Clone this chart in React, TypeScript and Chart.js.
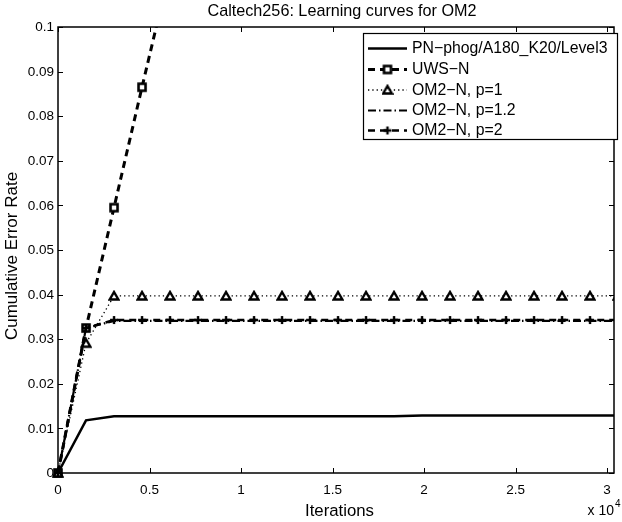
import React, { useEffect, useRef } from 'react';
import { Chart, registerables } from 'chart.js';

Chart.register(...registerables);

// ---------- data ----------
const iterations = [0, 1530, 3060, 4590, 6120, 7650, 9180, 10710, 12240, 13770, 15300, 16830, 18360, 19890, 21420, 22950, 24480, 26010, 27540, 29070, 30600];
const pnPhog = [0, 0.0118, 0.0127, 0.0127, 0.0127, 0.0127, 0.0127, 0.0127, 0.0127, 0.0127, 0.0127, 0.0127, 0.0127, 0.0129, 0.0129, 0.0129, 0.0129, 0.0129, 0.0129, 0.0129, 0.0129];
const uwsN = [0, 0.0325, 0.0595, 0.0865, 0.113];
const om2p1 = [0, 0.0291, 0.0397, 0.0397, 0.0397, 0.0397, 0.0397, 0.0397, 0.0397, 0.0397, 0.0397, 0.0397, 0.0397, 0.0397, 0.0397, 0.0397, 0.0397, 0.0397, 0.0397, 0.0397, 0.0397];
const om2p12 = [0, 0.0325, 0.0341, 0.0341, 0.0341, 0.0341, 0.0341, 0.0341, 0.0341, 0.0341, 0.0341, 0.0341, 0.0341, 0.0341, 0.0341, 0.0341, 0.0341, 0.0341, 0.0341, 0.0341, 0.0341];
const om2p2 = [0, 0.0325, 0.0343, 0.0343, 0.0343, 0.0343, 0.0343, 0.0343, 0.0343, 0.0343, 0.0343, 0.0343, 0.0343, 0.0343, 0.0343, 0.0343, 0.0343, 0.0343, 0.0343, 0.0343, 0.0343];

const seriesLabels = ['PN\u2212phog/A180_K20/Level3', 'UWS\u2212N', 'OM2\u2212N, p=1', 'OM2\u2212N, p=1.2', 'OM2\u2212N, p=2'];
const xTickValues = [0, 5000, 10000, 15000, 20000, 25000, 30000];
const xTickLabels = ['0', '0.5', '1', '1.5', '2', '2.5', '3'];
const yTickValues = [0, 0.01, 0.02, 0.03, 0.04, 0.05, 0.06, 0.07, 0.08, 0.09, 0.1];
const yTickLabels = ['0', '0.01', '0.02', '0.03', '0.04', '0.05', '0.06', '0.07', '0.08', '0.09', '0.1'];
const titleText = 'Caltech256: Learning curves for OM2';
const xLabel = 'Iterations';
const yLabel = 'Cumulative Error Rate';
const xMultiplier = 'x 10';
const xMultiplierExp = '4';

const FONT = '"Liberation Sans", Arial, Helvetica, sans-serif';

function makeCanvas(w: number, h: number) {
  const c = document.createElement('canvas');
  c.width = w;
  c.height = h;
  return c;
}

function squareMarker() {
  const c = makeCanvas(12, 12);
  const g = c.getContext('2d')!;
  g.fillStyle = '#fff';
  g.fillRect(2.5, 2.5, 7, 7);
  g.strokeStyle = '#000';
  g.lineWidth = 2.6;
  g.strokeRect(2.5, 2.5, 7, 7);
  return c;
}

function triangleMarker() {
  const c = makeCanvas(12, 12);
  const g = c.getContext('2d')!;
  g.beginPath();
  g.moveTo(6, 2);
  g.lineTo(10.3, 9.5);
  g.lineTo(1.7, 9.5);
  g.closePath();
  g.fillStyle = '#fff';
  g.fill();
  g.strokeStyle = '#000';
  g.lineWidth = 2.4;
  g.lineJoin = 'miter';
  g.stroke();
  return c;
}

function plusMarker() {
  const c = makeCanvas(10, 10);
  const g = c.getContext('2d')!;
  g.strokeStyle = '#000';
  g.lineWidth = 2.4;
  g.beginPath();
  g.moveTo(1, 5);
  g.lineTo(9, 5);
  g.moveTo(5, 1);
  g.lineTo(5, 9);
  g.stroke();
  return c;
}

const decorPlugin = {
  id: 'matlabDecor',
  afterDatasetsDraw(chart: any) {
    const { ctx, chartArea, scales } = chart;
    const { left, right, top, bottom } = chartArea;
    const x = scales.x;
    const y = scales.y;
    ctx.save();
    ctx.strokeStyle = '#000';
    ctx.lineWidth = 1;
    ctx.beginPath();
    const tl = 5;
    xTickValues.forEach((v) => {
      const px = Math.round(x.getPixelForValue(v)) + 0.5;
      ctx.moveTo(px, bottom);
      ctx.lineTo(px, bottom - tl);
      ctx.moveTo(px, top);
      ctx.lineTo(px, top + tl);
    });
    yTickValues.forEach((v) => {
      const py = Math.round(y.getPixelForValue(v)) + 0.5;
      ctx.moveTo(left, py);
      ctx.lineTo(left + tl, py);
      ctx.moveTo(right, py);
      ctx.lineTo(right - tl, py);
    });
    ctx.stroke();
    ctx.lineWidth = 1.5;
    ctx.strokeRect(left, top, right - left, bottom - top);

    // tick labels
    ctx.fillStyle = '#000';
    ctx.font = `13.5px ${FONT}`;
    ctx.textBaseline = 'middle';
    ctx.textAlign = 'center';
    xTickValues.forEach((v, i) => {
      ctx.fillText(xTickLabels[i], x.getPixelForValue(v), bottom + 17);
    });
    ctx.textAlign = 'right';
    yTickValues.forEach((v, i) => {
      ctx.fillText(yTickLabels[i], left - 4, y.getPixelForValue(v) + 0.5);
    });
    ctx.restore();
  },
  afterDraw(chart: any) {
    const { ctx } = chart;
    ctx.save();
    ctx.fillStyle = '#000';
    ctx.textAlign = 'center';
    ctx.textBaseline = 'middle';
    // title
    ctx.font = `16.2px ${FONT}`;
    ctx.fillText(titleText, 342, 12);
    // x label
    ctx.font = `16.8px ${FONT}`;
    ctx.fillText(xLabel, 339.5, 511);
    // y label
    ctx.save();
    ctx.translate(12, 256);
    ctx.rotate(-Math.PI / 2);
    ctx.font = `17px ${FONT}`;
    ctx.fillText(yLabel, 0, 0);
    ctx.restore();
    // multiplier
    ctx.font = `14px ${FONT}`;
    ctx.textAlign = 'right';
    ctx.fillText(xMultiplier, 614, 511);
    ctx.font = `10px ${FONT}`;
    ctx.textAlign = 'left';
    ctx.fillText(xMultiplierExp, 615, 504);

    // legend
    const bx = 363, by = 33, bw = 254, bh = 106;
    ctx.fillStyle = '#fff';
    ctx.fillRect(bx, by, bw, bh);
    ctx.strokeStyle = '#000';
    ctx.lineWidth = 1.2;
    ctx.strokeRect(bx + 0.5, by + 0.5, bw, bh);
    const rows = [48.5, 69.5, 90, 110.5, 130.5];
    chart.data.datasets.forEach((ds: any, i: number) => {
      const cy = rows[i];
      ctx.save();
      ctx.strokeStyle = '#000';
      ctx.lineWidth = ds.borderWidth;
      ctx.setLineDash(ds.borderDash || []);
      ctx.beginPath();
      ctx.moveTo(368, cy);
      ctx.lineTo(407, cy);
      ctx.stroke();
      ctx.restore();
      if (ds.legendMarker) {
        const m = ds.legendMarker as HTMLCanvasElement;
        ctx.drawImage(m, 387.5 - m.width / 2, cy - m.height / 2);
      }
      ctx.fillStyle = '#000';
      ctx.font = `15.8px ${FONT}`;
      ctx.textAlign = 'left';
      ctx.textBaseline = 'middle';
      ctx.fillText(ds.label, 412, cy + 0.5);
    });
    ctx.restore();
  },
};

export default function App() {
  const ref = useRef<HTMLCanvasElement | null>(null);

  useEffect(() => {
    if (!ref.current) return;
    const sq = squareMarker();
    const tri = triangleMarker();
    const plus = plusMarker();
    const pts = (vals: number[]) => vals.map((v, i) => ({ x: iterations[i], y: v }));
    const clip = { left: 10, top: 0, right: 0, bottom: 10 };

    const chart = new Chart(ref.current, {
      type: 'line',
      data: {
        datasets: [
          {
            label: seriesLabels[0],
            data: pts(pnPhog),
            borderColor: '#000',
            borderWidth: 2.5,
            pointRadius: 0,
            order: 5,
            clip,
          },
          {
            label: seriesLabels[1],
            data: pts(uwsN),
            borderColor: '#000',
            borderWidth: 3,
            borderDash: [7, 5],
            pointStyle: sq,
            pointRadius: 5,
            order: 4,
            clip,
            legendMarker: sq,
          },
          {
            label: seriesLabels[2],
            data: pts(om2p1),
            borderColor: '#000',
            borderWidth: 1.3,
            borderDash: [1.3, 3],
            pointStyle: tri,
            pointRadius: 5,
            order: 3,
            clip,
            legendMarker: tri,
          },
          {
            label: seriesLabels[3],
            data: pts(om2p12),
            borderColor: '#000',
            borderWidth: 2.2,
            borderDash: [8, 3, 1.5, 3],
            pointRadius: 0,
            order: 2,
            clip,
          },
          {
            label: seriesLabels[4],
            data: pts(om2p2),
            borderColor: '#000',
            borderWidth: 2.6,
            borderDash: [7, 5],
            pointStyle: plus,
            pointRadius: 5,
            order: 1,
            clip,
            legendMarker: plus,
          },
        ] as any,
      },
      options: {
        animation: false,
        responsive: false,
        devicePixelRatio: 1,
        layout: { padding: { top: 27, right: 2, left: 58, bottom: 49 } },
        elements: { line: { tension: 0, fill: false } },
        plugins: {
          legend: { display: false },
          title: { display: false },
          tooltip: { enabled: false },
        },
        scales: {
          x: {
            type: 'linear',
            display: false,
            min: 0,
            max: 30380,
          },
          y: {
            type: 'linear',
            display: false,
            min: 0,
            max: 0.1,
          },
        },
      },
      plugins: [decorPlugin],
    });
    return () => chart.destroy();
  }, []);

  return (
    <div style={{ position: 'fixed', left: 0, top: 0, width: 622, height: 522, background: '#fff' }}>
      <canvas ref={ref} width={622} height={522} style={{ display: 'block', width: 622, height: 522 }} />
    </div>
  );
}
